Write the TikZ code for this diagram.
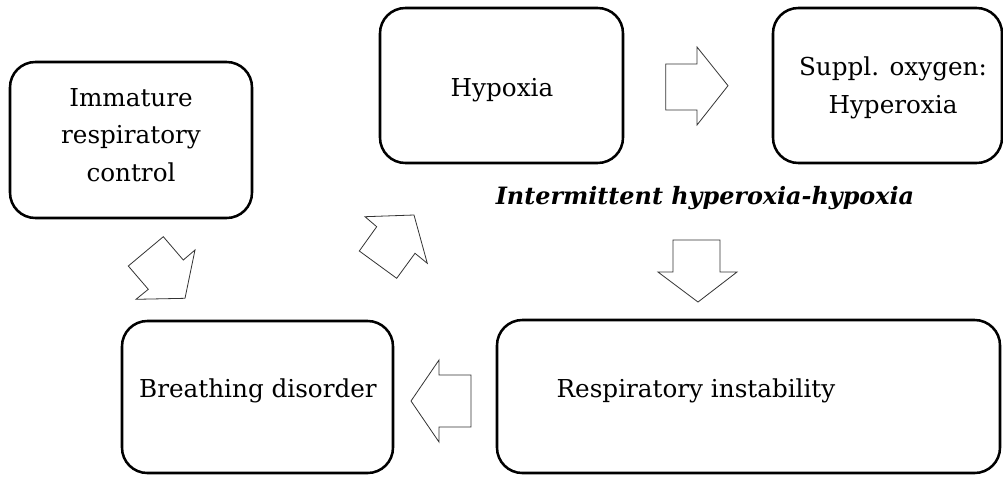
\documentclass[tikz,border=0pt]{standalone}
\usepackage{fontspec}
\setmainfont{DejaVu Serif}
\begin{document}
\begin{tikzpicture}[x=0.75pt,y=-0.75pt,
  box/.style={draw=black,line width=1.9pt,rounded corners=19pt},
  lbl/.style={align=center,font=\fontsize{18.5}{28}\selectfont,inner sep=0pt},
  blockarrow/.style={draw=black!80,line width=0.6pt,fill=white,line join=miter}]
\useasboundingbox (0,0) rectangle (1003,476);
% boxes
\draw[box] (10,62) rectangle (252,218);
\draw[box] (380,8) rectangle (623,163);
\draw[box] (773,8) rectangle (1002,163);
\draw[box] (122,321) rectangle (393,473);
\draw[box] (497,320) rectangle (1000,473);
% labels
\node[lbl] (imm) at (131,135) {Immature\\respiratory\\control};
\node[lbl] (hyp) at (502,90) {Hypoxia};
\node[lbl] (sup) at (893,88) {Suppl. oxygen:\\Hyperoxia};
\node[lbl] (bre) at (258,391) {Breathing disorder};
\node[lbl] (res) at (696,391) {Respiratory instability};
\node[inner sep=0pt,font=\fontsize{17.9}{20}\selectfont\bfseries\itshape] (int) at (705,198) {Intermittent hyperoxia-hypoxia};
% block arrows
\draw[blockarrow] (665.7,64) -- (697,64) -- (697,47) -- (728,85.7) -- (697,125) -- (697,110) -- (665.7,110) -- cycle;
\draw[blockarrow] (673,240) -- (720,240) -- (720,272) -- (737,272) -- (698,302) -- (658,272) -- (673,272) -- cycle;
\draw[blockarrow] (471,375) -- (439,375) -- (439,360) -- (411,401) -- (439,442) -- (439,427) -- (471,427) -- cycle;
\draw[blockarrow] (128.3,266) -- (163.3,236.7) -- (183.3,260) -- (195,250) -- (185,298.3) -- (136,299.3) -- (148.3,289.3) -- cycle;
\draw[blockarrow] (365,216.7) -- (414,215) -- (427.3,263.3) -- (415,253.3) -- (396.7,278.3) -- (359.3,251) -- (376.7,226.7) -- cycle;
\end{tikzpicture}
\end{document}
